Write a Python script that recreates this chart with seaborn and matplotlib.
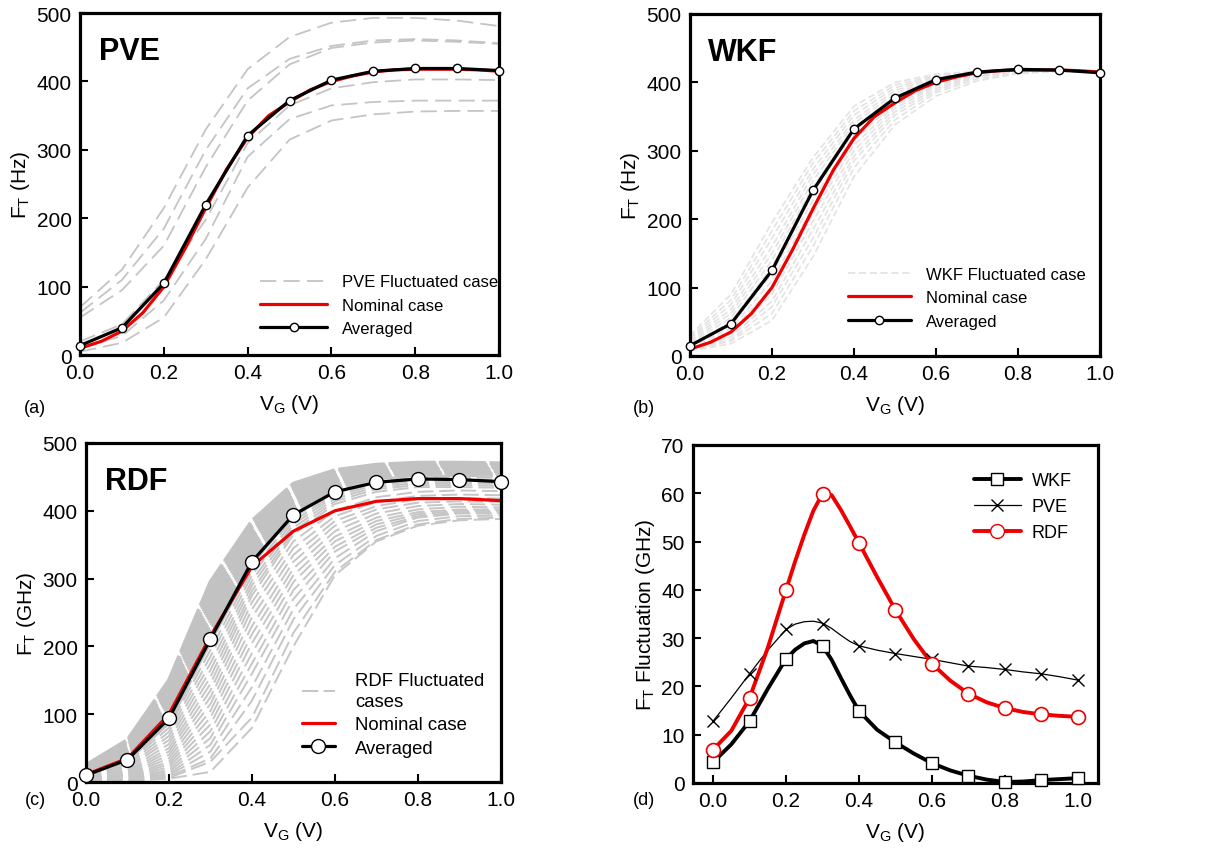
import numpy as np
import pandas as pd
import seaborn as sns
import matplotlib.pyplot as plt
from matplotlib.lines import Line2D
from matplotlib.ticker import FormatStrFormatter

# gate voltage grids
vg = [0.0, 0.1, 0.2, 0.3, 0.4, 0.5, 0.6, 0.7, 0.8, 0.9, 1.0]
vg_fine = [0.0, 0.05, 0.1, 0.15, 0.2, 0.25, 0.3, 0.35, 0.4, 0.45, 0.5,
           0.55, 0.6, 0.65, 0.7, 0.75, 0.8, 0.85, 0.9, 0.95, 1.0]
vg_d = [0.0, 0.05, 0.1, 0.15, 0.2, 0.225, 0.25, 0.275, 0.3, 0.325, 0.35, 0.375, 0.4,
        0.45, 0.5, 0.55, 0.6, 0.65, 0.7, 0.75, 0.8, 0.85, 0.9, 0.95, 1.0]

# nominal device (red)
nominal_fine = [10, 20, 35, 62, 100, 155, 215, 272, 318, 350, 370,
                388, 400, 408, 414, 417, 418, 418, 418, 417, 415]
nominal = [11, 35, 100, 215, 318, 370, 400, 414, 418, 418, 415]

# averaged curves
pve_avg = [14, 40, 105, 220, 321, 372, 402, 415, 419, 419, 416]
wkf_avg = [15, 47, 125, 242, 332, 377, 404, 415, 419, 418, 414]
rdf_avg = [10, 33, 94, 211, 325, 394, 428, 442, 447, 446, 443]

# fluctuated cases
pve_cases = [
    [70, 125, 215, 330, 418, 465, 486, 493, 493, 489, 481],
    [62, 110, 185, 300, 390, 433, 452, 460, 462, 460, 456],
    [55, 95, 160, 275, 372, 425, 449, 457, 460, 458, 455],
    [20, 45, 110, 198, 310, 365, 390, 399, 403, 403, 402],
    [10, 28, 80, 170, 290, 345, 365, 370, 372, 372, 372],
    [5, 18, 55, 140, 245, 315, 343, 352, 356, 357, 357],
]
wkf_cases = [
    [30, 90, 195, 290, 365, 400, 412, 416, 418, 418, 416],
    [27, 82, 183, 282, 358, 396, 410, 415, 418, 418, 416],
    [25, 75, 172, 273, 352, 392, 408, 415, 418, 418, 416],
    [23, 68, 160, 265, 345, 388, 406, 414, 418, 418, 416],
    [21, 62, 150, 256, 340, 384, 404, 414, 418, 418, 416],
    [19, 56, 140, 247, 334, 380, 402, 413, 418, 418, 416],
    [17, 50, 130, 238, 328, 377, 401, 413, 418, 418, 416],
    [15, 45, 120, 228, 322, 373, 400, 413, 418, 418, 416],
    [14, 40, 110, 218, 315, 370, 398, 412, 417, 418, 416],
    [12, 36, 100, 208, 308, 366, 396, 411, 417, 418, 416],
    [11, 32, 90, 197, 300, 362, 394, 410, 417, 418, 416],
    [10, 28, 80, 185, 292, 357, 391, 409, 416, 417, 416],
    [9, 24, 72, 172, 285, 352, 388, 408, 416, 417, 416],
    [8, 22, 62, 160, 275, 345, 385, 405, 414, 416, 415],
    [7, 18, 52, 145, 262, 338, 380, 402, 413, 416, 415],
]
rdf_cases_dense = [
    [25, 62, 150, 295, 385, 440, 460, 468, 471, 471, 470],
    [23, 60, 145, 288, 380, 436, 458, 467, 470, 470, 469],
    [22, 58, 140, 282, 376, 433, 456, 465, 468, 468, 467],
    [20, 55, 135, 275, 372, 430, 455, 464, 467, 467, 466],
    [19, 52, 130, 268, 367, 427, 453, 463, 466, 466, 465],
    [18, 50, 125, 262, 362, 424, 451, 462, 465, 465, 464],
    [17, 47, 120, 255, 358, 420, 448, 460, 463, 463, 462],
    [16, 45, 115, 248, 352, 417, 446, 458, 462, 462, 461],
    [15, 43, 110, 242, 347, 414, 444, 456, 460, 460, 459],
    [14, 40, 105, 235, 342, 410, 442, 455, 459, 459, 458],
    [13, 38, 100, 228, 337, 407, 440, 453, 457, 457, 456],
    [13, 36, 96, 222, 332, 404, 437, 451, 456, 456, 455],
    [12, 34, 92, 215, 328, 400, 435, 450, 455, 455, 454],
    [11, 32, 88, 208, 322, 397, 433, 448, 453, 453, 452],
]
rdf_cases_sparse = [
    [11, 31, 86, 205, 320, 395, 432, 447, 452, 452, 451],
    [10, 28, 80, 195, 312, 390, 428, 444, 450, 450, 449],
    [9, 25, 74, 185, 305, 385, 425, 441, 447, 447, 446],
    [8, 22, 68, 175, 297, 380, 422, 438, 444, 444, 443],
    [7, 20, 62, 165, 290, 375, 418, 435, 441, 441, 440],
    [6, 17, 56, 155, 282, 370, 414, 432, 438, 438, 437],
    [5, 15, 50, 145, 275, 365, 410, 428, 435, 435, 434],
    [5, 13, 45, 135, 265, 355, 400, 420, 428, 430, 429],
    [4, 11, 40, 125, 255, 345, 392, 413, 422, 424, 423],
    [4, 10, 35, 115, 243, 335, 385, 407, 417, 419, 418],
    [3, 9, 30, 105, 230, 325, 378, 402, 412, 414, 413],
    [3, 8, 26, 95, 218, 315, 370, 396, 407, 410, 409],
    [3, 7, 22, 85, 205, 305, 362, 390, 402, 406, 405],
    [2, 6, 18, 75, 190, 295, 355, 385, 398, 402, 402],
    [2, 5, 15, 65, 175, 283, 347, 380, 395, 400, 400],
    [2, 4, 12, 55, 160, 270, 340, 375, 392, 398, 398],
    [1, 3, 10, 45, 140, 255, 330, 370, 390, 396, 396],
    [1, 3, 8, 35, 120, 240, 320, 363, 385, 392, 393],
    [1, 2, 6, 30, 95, 220, 310, 357, 380, 388, 390],
    [1, 2, 5, 15, 80, 200, 305, 355, 378, 386, 388],
]

# fluctuation summary (panel d): markers at vg, smooth lines at vg_d
wkf_fl = [4.3, 12.8, 25.7, 28.4, 14.9, 8.4, 4.1, 1.5, 0.2, 0.7, 1.0]
pve_fl = [12.8, 22.6, 31.8, 33.0, 28.4, 26.8, 25.6, 24.2, 23.5, 22.6, 21.3]
rdf_fl = [6.9, 17.6, 40.0, 59.8, 49.7, 35.8, 24.7, 18.5, 15.5, 14.2, 13.7]
wkf_fl_line = [4.3, 8.0, 12.8, 19.5, 25.7, 27.6, 28.9, 29.4, 28.4, 25.5, 21.8, 18.2, 14.9,
               11.0, 8.4, 6.1, 4.1, 2.6, 1.5, 0.7, 0.2, 0.3, 0.6, 0.8, 1.0]
pve_fl_line = [12.8, 17.6, 22.6, 27.5, 31.8, 32.9, 33.4, 33.5, 33.1, 32.0, 30.6, 29.3, 28.4,
               27.5, 26.8, 26.2, 25.6, 24.9, 24.2, 23.9, 23.5, 23.0, 22.6, 22.0, 21.3]
rdf_fl_line = [6.9, 10.8, 17.6, 28.0, 40.0, 45.9, 51.4, 56.4, 59.9, 59.6, 56.6, 53.2, 49.7,
               42.6, 35.8, 29.8, 24.7, 21.2, 18.5, 16.7, 15.5, 14.7, 14.2, 13.9, 13.7]

sns.set_style('ticks')
plt.rcParams['font.family'] = ['Liberation Sans', 'DejaVu Sans']
plt.rcParams['mathtext.fontset'] = 'custom'
plt.rcParams['mathtext.rm'] = 'Liberation Sans'
for k in ['text.color', 'axes.labelcolor', 'xtick.color', 'ytick.color', 'axes.edgecolor']:
    plt.rcParams[k] = 'black'

fig = plt.figure(figsize=(12.13, 8.54), dpi=100)
ax_a = fig.add_axes([0.066, 0.583, 0.3454, 0.4005])
ax_b = fig.add_axes([0.5688, 0.582, 0.338, 0.4005])
ax_c = fig.add_axes([0.0709, 0.0831, 0.342, 0.397])
ax_d = fig.add_axes([0.5713, 0.082, 0.3339, 0.3958])


def cases_df(cases):
    rows = []
    for i, c in enumerate(cases):
        for x, y in zip(vg, c):
            rows.append({'case': i, 'VG': x, 'FT': y})
    return pd.DataFrame(rows)


def gray_cases(ax, cases, gray, dash, lw):
    sns.lineplot(data=cases_df(cases), x='VG', y='FT', units='case', estimator=None,
                 color=gray, lw=lw, linestyle=(0, dash), ax=ax, legend=False)


def style_axes(ax, ylim, yticks, ylabel):
    ax.set_xlim(0, 1)
    ax.set_ylim(*ylim)
    ax.set_xticks([0, 0.2, 0.4, 0.6, 0.8, 1.0])
    ax.set_yticks(yticks)
    ax.xaxis.set_major_formatter(FormatStrFormatter('%.1f'))
    ax.tick_params(direction='in', length=6, width=1.5, labelsize=15, pad=6,
                   top=False, right=False)
    for s in ax.spines.values():
        s.set_linewidth(2.3)
    ax.set_xlabel(r'V$_\mathregular{G}$ (V)', fontsize=15, labelpad=7)
    ax.set_ylabel(ylabel, fontsize=15, labelpad=3)


def ft_panel(ax, gray, dash, avg, nom, nom_x, msize, name, leg_name,
             leg_x, leg_y, hlen, hpad, ylabel, lfs, lsp):
    sns.lineplot(x=nom_x, y=nom, color='#ee0000', lw=2.3, ax=ax)
    sns.lineplot(x=vg, y=avg, color='black', lw=2.3, marker='o', markersize=msize,
                 markerfacecolor='white', markeredgecolor='black',
                 markeredgewidth=1.0, clip_on=False, zorder=5, ax=ax)
    style_axes(ax, (0, 500), [0, 100, 200, 300, 400, 500], ylabel)
    ax.text(0.045, 0.888, name, transform=ax.transAxes, fontsize=22,
            fontweight='bold', va='center', ha='left')
    handles = [Line2D([], [], color=gray, lw=1.3, linestyle=(0, dash)),
               Line2D([], [], color='#ee0000', lw=2.3),
               Line2D([], [], color='black', lw=2.3, marker='o', markersize=msize,
                      markerfacecolor='white', markeredgecolor='black')]
    leg = ax.legend(handles, [leg_name, 'Nominal case', 'Averaged'], frameon=False,
                    loc='center left', bbox_to_anchor=(leg_x, leg_y), borderpad=0,
                    borderaxespad=0, handlelength=hlen, handletextpad=hpad,
                    labelspacing=lsp, fontsize=lfs)
    return leg


gray_cases(ax_a, pve_cases, '#c4c4c4', (9, 4), 1.3)
ft_panel(ax_a, '#c4c4c4', (9, 4), pve_avg, nominal_fine, vg_fine, 6,
         'PVE', 'PVE Fluctuated case', 0.43, 0.146, 4.0, 0.9,
         r'F$_\mathregular{T}$ (Hz)', 12, 0.5)

gray_cases(ax_b, wkf_cases, '#e3e3e3', (4, 2), 1.2)
ft_panel(ax_b, '#e3e3e3', (4, 2), wkf_avg, nominal_fine, vg_fine, 6,
         'WKF', 'WKF Fluctuated case', 0.385, 0.17, 3.8, 0.9,
         r'F$_\mathregular{T}$ (Hz)', 12, 0.5)

gray_cases(ax_c, rdf_cases_dense, '#c2c2c2', (12, 1), 2.8)
gray_cases(ax_c, rdf_cases_sparse, '#c6c6c6', (8, 3), 1.4)
leg_c = ft_panel(ax_c, '#c0c0c0', (9, 3), rdf_avg, nominal, vg, 10,
                 'RDF', 'RDF Fluctuated\ncases', 0.52, 0.2, 1.8, 1.1,
                 r'F$_\mathregular{T}$ (GHz)', 13.3, 0.35)
leg_c.get_texts()[0].set_linespacing(1.3)

# panel d
ax = ax_d
sns.lineplot(x=vg_d, y=wkf_fl_line, color='black', lw=2.8, ax=ax)
sns.lineplot(x=vg_d, y=pve_fl_line, color='black', lw=0.9, ax=ax)
sns.lineplot(x=vg_d, y=rdf_fl_line, color='#ee0000', lw=2.8, ax=ax)
ax.plot(vg, wkf_fl, 's', ms=8, mfc='white', mec='black', mew=1.0, clip_on=False, zorder=5)
ax.plot(vg, pve_fl, 'x', ms=9, mec='black', mew=1.0, clip_on=False, zorder=5)
ax.plot(vg, rdf_fl, 'o', ms=10, mfc='white', mec='#ee0000', mew=1.2, clip_on=False, zorder=5)
style_axes(ax, (0, 70), [0, 10, 20, 30, 40, 50, 60, 70],
           r'F$_\mathregular{T}$ Fluctuation (GHz)')
ax.set_xlim(-0.055, 1.055)
handles = [Line2D([], [], color='black', lw=2.8, marker='s', ms=8, mfc='white', mec='black'),
           Line2D([], [], color='black', lw=0.9, marker='x', ms=9, mec='black'),
           Line2D([], [], color='#ee0000', lw=2.8, marker='o', ms=10, mfc='white', mec='#ee0000')]
ax.legend(handles, ['WKF', 'PVE', 'RDF'], frameon=False, loc='center left',
          bbox_to_anchor=(0.693, 0.817), borderpad=0, borderaxespad=0,
          handlelength=2.6, handletextpad=0.6, labelspacing=0.5, fontsize=13)

fig.text(0.029, 0.522, '(a)', fontsize=13, va='center', ha='center')
fig.text(0.531, 0.522, '(b)', fontsize=13, va='center', ha='center')
fig.text(0.029, 0.063, '(c)', fontsize=13, va='center', ha='center')
fig.text(0.531, 0.063, '(d)', fontsize=13, va='center', ha='center')

fig.savefig('out.png', dpi=100)
